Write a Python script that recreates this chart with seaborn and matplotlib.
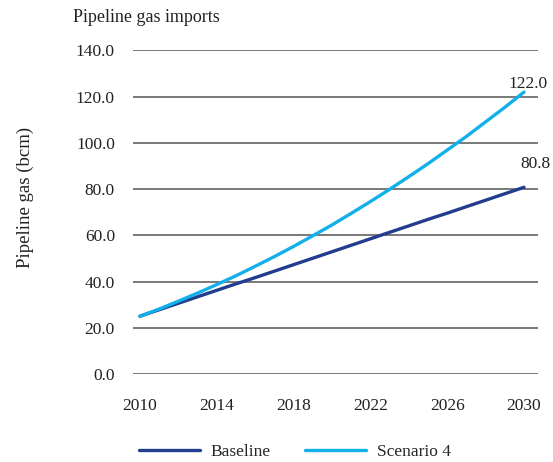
import numpy as np
import pandas as pd
import matplotlib
matplotlib.use('Agg')
import matplotlib.pyplot as plt
import seaborn as sns

# values (bcm)
years = list(range(2010, 2031))
baseline = [25.0, 27.8, 30.6, 33.4, 36.2, 39.0, 41.7, 44.5, 47.3, 50.1, 52.9,
            55.7, 58.5, 61.3, 64.1, 66.9, 69.6, 72.4, 75.2, 78.0, 80.8]
scenario4 = [25.0, 28.1, 31.5, 35.0, 38.7, 42.5, 46.6, 50.8, 55.2, 59.8, 64.5,
             69.5, 74.6, 79.9, 85.4, 91.0, 96.9, 102.8, 109.1, 115.4, 122.0]
series_names = ['Baseline', 'Scenario 4']
x_ticks = [2010, 2014, 2018, 2022, 2026, 2030]
y_ticks = [0, 20, 40, 60, 80, 100, 120, 140]

df = pd.DataFrame({'year': years * 2,
                   'value': baseline + scenario4,
                   'series': [series_names[0]] * len(years) + [series_names[1]] * len(years)})

sns.set_style('white')
plt.rcParams['font.family'] = ['Liberation Serif', 'DejaVu Serif']

fig = plt.figure(figsize=(5.53, 4.62), dpi=100)
ax = fig.add_axes([0.2405, 0.1905, 0.7324, 0.7002])

for y in y_ticks:
    ax.axhline(y, color='#555555', lw=1.1, zorder=0)

sns.lineplot(data=df, x='year', y='value', hue='series', ax=ax,
             palette={'Baseline': '#233d8e', 'Scenario 4': '#12b0ea'},
             lw=2.4, legend=False)

ax.set_xlim(2009.64, 2030.73)
ax.set_ylim(0, 140)
ax.set_xticks(x_ticks)
ax.set_yticks(y_ticks)
ax.set_yticklabels([f'{v:.1f}' for v in y_ticks])
ax.tick_params(axis='y', length=0, pad=13, labelsize=12.5, colors='#222222')
ax.tick_params(axis='x', length=0, pad=17, labelsize=12.5, colors='#222222')
ax.set_xlabel('')
ax.set_ylabel('')
for s in ax.spines.values():
    s.set_visible(False)

ax.annotate(f'{scenario4[-1]:.1f}', (years[-1], scenario4[-1]), xytext=(3, 6),
            textcoords='offset points', ha='center', va='center', fontsize=12.5, color='#222222')
ax.annotate(f'{baseline[-1]:.1f}', (years[-1], baseline[-1]), xytext=(8, 17),
            textcoords='offset points', ha='center', va='center', fontsize=12.5, color='#222222')

fig.text(73 / 553, 1 - 18 / 462, 'Pipeline gas imports', ha='left', va='center',
         fontsize=13, color='#222222')
fig.text(25 / 553, 1 - 197 / 462, 'Pipeline gas (bcm)', ha='center', va='center',
         rotation=90, fontsize=13.5, color='#222222')

handles = [plt.Line2D([], [], color='#233d8e', lw=2.4),
           plt.Line2D([], [], color='#12b0ea', lw=2.4)]
fig.legend(handles, series_names, loc='center', bbox_to_anchor=(295 / 553, 1 - 452 / 462),
           ncol=2, frameon=False, fontsize=12.5, handlelength=3.5, columnspacing=2.0,
           handletextpad=0.6)

fig.savefig('out.png', dpi=100)
